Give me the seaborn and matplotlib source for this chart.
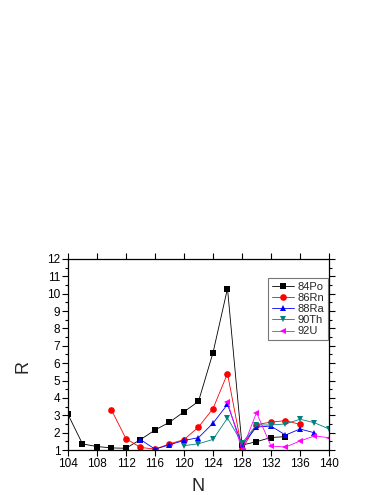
import matplotlib
matplotlib.use('Agg')
import matplotlib.pyplot as plt
from matplotlib.ticker import MultipleLocator
import pandas as pd
import seaborn as sns

# R values per isotope chain
po_n = [104, 106, 108, 110, 112, 114, 116, 118, 120, 122, 124, 126, 128, 130, 132, 134]
po_r = [3.05, 1.35, 1.2, 1.12, 1.1, 1.6, 2.15, 2.6, 3.2, 3.8, 6.6, 10.3, 1.28, 1.48, 1.72, 1.77]

rn_n = [110, 112, 114, 116, 118, 120, 122, 124, 126, 128, 130, 132, 134, 136]
rn_r = [3.3, 1.65, 1.15, 1.05, 1.35, 1.6, 2.32, 3.38, 5.4, 1.04, 2.46, 2.61, 2.69, 2.48]

ra_n = [114, 116, 118, 120, 122, 124, 126, 128, 130, 132, 134, 136, 138]
ra_r = [1.6, 1.05, 1.3, 1.55, 1.71, 2.54, 3.63, 1.29, 2.32, 2.38, 1.86, 2.21, 1.99]

th_n = [120, 122, 124, 126, 128, 130, 132, 134, 136, 138, 140]
th_r = [1.25, 1.36, 1.61, 2.84, 1.4, 2.44, 2.44, 2.5, 2.77, 2.57, 2.21]

u_n = [126, 128, 130, 132, 134, 136, 138, 140]
u_r = [3.78, 1.0, 3.15, 1.23, 1.17, 1.52, 1.81, 1.71]

labels = ['84Po', '86Rn', '88Ra', '90Th', '92U']
colors = ['#000000', '#FF0000', '#0000FF', '#008080', '#FF00FF']
markers = ['s', 'o', '^', 'v', '<']

frames = []
for lab, n, r in zip(labels, [po_n, rn_n, ra_n, th_n, u_n], [po_r, rn_r, ra_r, th_r, u_r]):
    frames.append(pd.DataFrame({'N': n, 'R': r, 'nucleus': lab}))
df = pd.concat(frames, ignore_index=True)

sns.set_style('ticks')
plt.rcParams['font.family'] = ['Liberation Sans', 'DejaVu Sans']

fig = plt.figure(figsize=(3.83, 4.95), dpi=100)
ax = fig.add_axes([0.1775, 0.0909, 0.6815, 0.3859])

sns.lineplot(data=df, x='N', y='R', hue='nucleus', style='nucleus',
             palette=dict(zip(labels, colors)), markers=dict(zip(labels, markers)),
             dashes=False, linewidth=0.6, markersize=4.8, markeredgewidth=0,
             ax=ax)

ax.set_xlim(104, 140)
ax.set_ylim(1, 12)
ax.xaxis.set_major_locator(MultipleLocator(4))
ax.yaxis.set_major_locator(MultipleLocator(1))
ax.yaxis.set_minor_locator(MultipleLocator(0.5))
ax.tick_params(which='both', direction='out', top=True, right=True,
               labeltop=False, labelright=False, width=0.8, colors='black')
ax.tick_params(which='major', length=4, labelsize=8.5, pad=1.5)
ax.tick_params(which='minor', length=2.5)
for s in ax.spines.values():
    s.set_linewidth(0.9)
    s.set_color('black')

ax.set_xlabel('N', fontsize=13)
ax.set_ylabel('R', fontsize=13)
ax.xaxis.set_label_coords(0.5, -0.147)
ax.yaxis.set_label_coords(-0.138, 0.435)

leg = ax.legend(loc='upper right', bbox_to_anchor=(0.996, 0.90), fontsize=8,
                frameon=True, fancybox=False, handlelength=2.0, handletextpad=0.3,
                borderpad=0.35, labelspacing=0.1, borderaxespad=0)
leg.get_frame().set_edgecolor('#555555')
leg.get_frame().set_linewidth(0.8)

fig.savefig('out.png', dpi=100)
